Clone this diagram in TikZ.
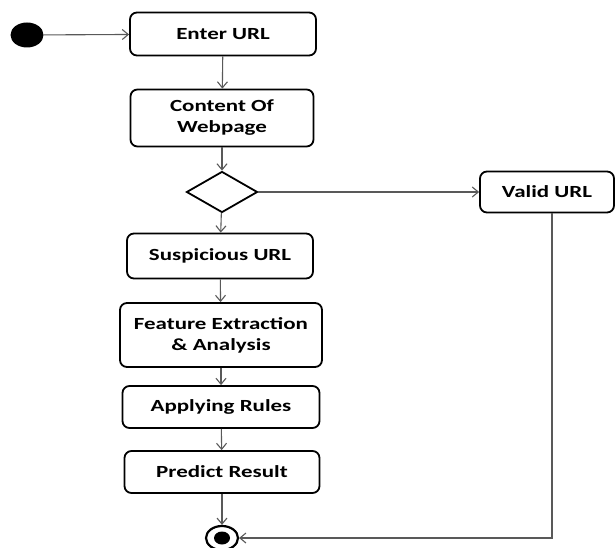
\documentclass[tikz,border=0pt]{standalone}
\usepackage{fontspec}
\setmainfont[FakeStretch=1.35]{Carlito}
\usepackage{tikz}
\usetikzlibrary{arrows.meta}
\usetikzlibrary{shapes.geometric}

\tikzset{
	activity/.style={
		draw=black,
		line width=1.8pt,
		rounded corners=7pt,
		align=center,
		font=\fontsize{17}{21}\selectfont\bfseries,
		inner sep=0pt
	},
	flow/.style={
		color=black!65,
		line width=1.1pt,
		-{Straight Barb[length=6pt,width=10pt]}
	}
}

\begin{document}
\begin{tikzpicture}[x=1pt, y=-1pt]
	\useasboundingbox (0,0) rectangle (615,548);

	% start and activities
	\node[fill=black, ellipse, minimum width=33pt, minimum height=25pt, inner sep=0pt]
		(start) at (27,35) {};
	\node[activity, minimum width=186pt, minimum height=43pt]
		(enter) at (223,34) {Enter URL};
	\node[activity, minimum width=183pt, minimum height=57pt]
		(content) at (222,118) {Content Of\\Webpage};
	\node[draw=black, line width=1.8pt, diamond, minimum width=71pt, minimum height=41pt, inner sep=0pt]
		(decide) at (222,192) {};
	\node[activity, minimum width=134pt, minimum height=41pt]
		(valid) at (547,192) {Valid URL};
	\node[activity, minimum width=186pt, minimum height=45pt]
		(suspicious) at (220,256) {Suspicious URL};
	\node[activity, minimum width=202pt, minimum height=64pt]
		(feature) at (221,335) {Feature Extraction\\\& Analysis};
	\node[activity, minimum width=197pt, minimum height=42pt]
		(rules) at (221,407) {Applying Rules};
	\node[activity, minimum width=195pt, minimum height=42pt]
		(predict) at (222,472) {Predict Result};

	% end
	\node[draw=black, line width=2.2pt, ellipse, minimum width=32pt, minimum height=24pt, inner sep=0pt]
		(stop) at (222,538) {};
	\fill[black]
		(stop.center) ellipse (8pt and 6.5pt);

	\coordinate (turn) at (552,538);

	% connectors
	\draw[flow] (start) -- (enter);
	\draw[flow] (enter) -- (content);
	\draw[flow] (content) -- (decide);
	\draw[flow] (decide) -- (valid);
	\draw[flow] (decide) -- (suspicious);
	\draw[flow] (suspicious) -- (feature);
	\draw[flow] (feature) -- (rules);
	\draw[flow] (rules) -- (predict);
	\draw[flow] (predict) -- (stop);
	\draw[flow]
		(valid.south -| turn) -- (turn) -- (stop.east);
\end{tikzpicture}
\end{document}
